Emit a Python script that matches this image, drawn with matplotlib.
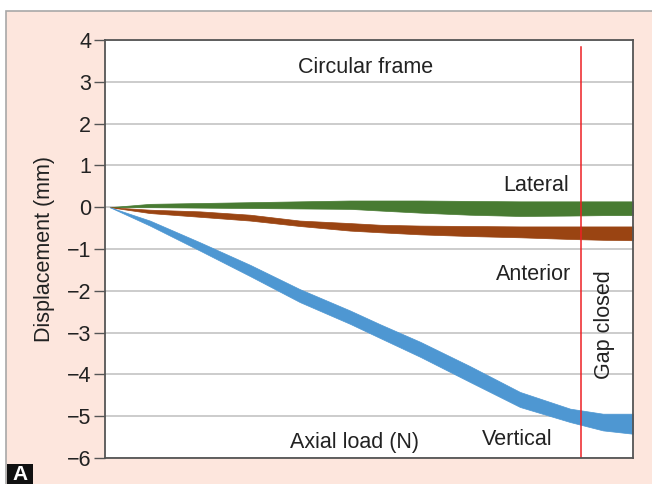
import matplotlib
matplotlib.use("Agg")
import matplotlib.pyplot as plt
from matplotlib.patches import Rectangle

plt.rcParams['font.family'] = ['Liberation Sans', 'DejaVu Sans']

# axial load, arbitrary units (0 = no load, 100 = end of test)
load = [0.9, 8.5, 18.0, 27.5, 36.9, 46.4, 52.1, 59.7, 69.1, 78.6, 88.1, 94.3, 100]

lateral_hi = [0, 0.08, 0.10, 0.12, 0.14, 0.16, 0.16, 0.16, 0.15, 0.14, 0.14, 0.14, 0.14]
lateral_lo = [0, 0.0, -0.01, -0.02, -0.03, -0.04, -0.08, -0.13, -0.18, -0.21, -0.20, -0.19, -0.19]

anterior_hi = [0, -0.06, -0.10, -0.18, -0.32, -0.38, -0.42, -0.44, -0.45, -0.46, -0.46, -0.46, -0.46]
anterior_lo = [0, -0.14, -0.23, -0.32, -0.45, -0.56, -0.60, -0.65, -0.69, -0.72, -0.76, -0.78, -0.79]

vertical_hi = [0, -0.32, -0.84, -1.38, -1.96, -2.47, -2.80, -3.22, -3.80, -4.42, -4.82, -4.94, -4.94]
vertical_lo = [0, -0.44, -1.04, -1.65, -2.27, -2.79, -3.13, -3.58, -4.18, -4.78, -5.14, -5.34, -5.42]

gap_closed_at = 90.1
yticks = [4, 3, 2, 1, 0, -1, -2, -3, -4, -5, -6]

fig = plt.figure(figsize=(6.52, 4.84), dpi=100)
fig.patch.set_facecolor('white')

# pink panel behind the plot (runs off the right and bottom edges)
W, H = 652, 484
fig.patches.append(Rectangle((6 / W, -0.1), 1.1, 1.1 - 11 / H, transform=fig.transFigure,
                             facecolor='#fde6dd', edgecolor='#a8a8a8', linewidth=1.2, zorder=-5))

ax = fig.add_axes([105 / W, (H - 458) / H, 528 / W, 418 / H])
ax.set_zorder(2)
ax.set_facecolor('white')
ax.set_xlim(0, 100)
ax.set_ylim(-6, 4)
ax.set_yticks(yticks)
ax.set_xticks([])
ax.tick_params(axis='y', direction='out', length=8, width=1, color='#555555',
               labelsize=15.5, labelcolor='#222222', pad=2)
for s in ax.spines.values():
    s.set_color('#555555')
    s.set_linewidth(1.3)
ax.grid(axis='y', color='#c4c4c4', linewidth=1.2)
ax.set_axisbelow(True)

ax.fill_between(load, lateral_lo, lateral_hi, color='#487b32', linewidth=0.5, edgecolor='#487b32')
ax.fill_between(load, anterior_lo, anterior_hi, color='#9a4412', linewidth=0.5, edgecolor='#9a4412')
ax.fill_between(load, vertical_lo, vertical_hi, color='#4e97d2', linewidth=0.5, edgecolor='#4e97d2')

ax.axvline(gap_closed_at, ymin=0, ymax=0.983, color='#ee2024', linewidth=1.1)

ax.set_ylabel('Displacement (mm)', fontsize=15.5, color='#222222')
ax.yaxis.set_label_coords(-0.094, 0.5)

tc = '#222222'
fs = 15.5
ax.text(49.4, 3.35, 'Circular frame', ha='center', va='center', fontsize=fs, color=tc)
ax.text(87.9, 0.53, 'Lateral', ha='right', va='center', fontsize=fs, color=tc)
ax.text(88.3, -1.62, 'Anterior', ha='right', va='center', fontsize=fs, color=tc)
ax.text(84.8, -5.55, 'Vertical', ha='right', va='center', fontsize=fs, color=tc)
ax.text(47.3, -5.64, 'Axial load (N)', ha='center', va='center', fontsize=fs, color=tc)
ax.text(94.6, -2.82, 'Gap closed', ha='center', va='center', rotation=90, fontsize=fs, color=tc)

# panel letter
fig.patches.append(Rectangle((7 / W, 0), 26 / W, 20 / H, transform=fig.transFigure,
                             facecolor='#111111', edgecolor='none', zorder=3))
fig.text(20 / W, 9 / H, 'A', ha='center', va='center', fontsize=15, fontweight='bold',
         color='white', zorder=4)

fig.savefig('out.png', dpi=100, facecolor='white')
